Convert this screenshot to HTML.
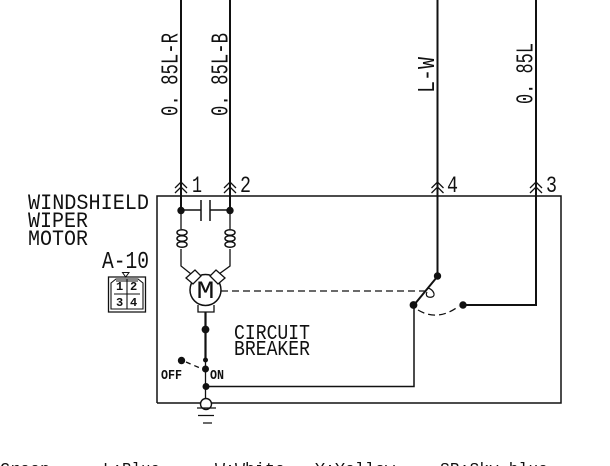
<!DOCTYPE html>
<html><head><meta charset="utf-8"><style>
html,body{margin:0;padding:0;background:#fff;width:610px;height:466px;overflow:hidden}
svg{display:block}
text{font-family:"Liberation Mono",monospace;fill:#111}
</style></head><body>
<svg width="610" height="466" viewBox="0 0 610 466" xmlns="http://www.w3.org/2000/svg">
<g fill="none" stroke="#111" stroke-width="1.6">
<!-- box -->
<path d="M157 403V196H561V403H157" stroke-width="1.5"/>
<!-- wires -->
<path d="M181 0V210M230 0V210M437.500 0V276M536 0V305H463" stroke-width="2"/>
<!-- arrowheads -->
<path d="M175 188l6-6 6 6M175 193l6-6 6 6M224 188l6-6 6 6M224 193l6-6 6 6M431.500 188l6-6 6 6M431.500 193l6-6 6 6M530 188l6-6 6 6M530 193l6-6 6 6" stroke-width="1.3"/>
<!-- capacitor -->
<path d="M181 210H201M210 210H230M201 200V221M210 200V221" stroke-width="1.5"/>
<!-- coils and leads -->
<path d="M181 210V229M181 249V266L191 274M230 210V229M230 249V266L219 274" stroke-width="1.3"/>
<g stroke-width="1.500">
<ellipse cx="182" cy="232.500" rx="5" ry="2.800"/><ellipse cx="182" cy="238.500" rx="5" ry="2.800"/><ellipse cx="182" cy="244.500" rx="5" ry="2.800"/>
<ellipse cx="230" cy="232.500" rx="5" ry="2.800"/><ellipse cx="230" cy="238.500" rx="5" ry="2.800"/><ellipse cx="230" cy="244.500" rx="5" ry="2.800"/>
</g>
<!-- motor -->
<circle cx="205.500" cy="290" r="15.500" stroke-width="1.5"/>
<path d="M186 278L195 270L201 276L193 284Z M225 278L216 270L210 276L218 284Z" stroke-width="1.3" fill="#fff"/>
<path d="M198 305V312H214V305" stroke-width="1.3"/>
<!-- vertical motor wire -->
<path d="M205.500 312V360" stroke-width="2.200"/>
<path d="M205.500 360V403" stroke-width="1.300"/>
<path d="M206 386.500H414V305" stroke-width="1.500"/>
<!-- off switch -->
<path d="M186 362L200 368" stroke-dasharray="5 4" stroke-width="1.300"/>
<!-- dashed -->
<path d="M221 291H425" stroke-dasharray="7 4" stroke-width="1.300"/>
<path d="M437 277L414 305" stroke-width="2"/>
<path d="M428 288C434 290 436 296 432 297C428 298 425 296 427 292" stroke-width="1.200"/>
<path d="M418 310Q438 322 459 306" stroke-dasharray="7 4" stroke-width="1.300"/>
<!-- ground -->
<circle cx="206" cy="404" r="5.500" fill="#fff" stroke-width="1.400"/>
<path d="M197 408H216M198 415.500H214M203 423H212" stroke-width="1.300"/>
<!-- connector -->
<path d="M108.500 277H145.500V312H108.500Z" stroke-width="1.300"/>
<path d="M111 283L116 279H138L143 283V309H111Z" stroke-width="1.100"/>
<path d="M127 279V309M114 294H140M116 281H138" stroke-width="1.100"/>
<path d="M122.500 272.500H129L125.700 277Z" stroke-width="1"/>
</g>
<g fill="#111">
<circle cx="181" cy="210.500" r="3.700"/><circle cx="230" cy="210.500" r="3.700"/>
<circle cx="437.500" cy="276" r="3.700"/><circle cx="413.500" cy="305" r="3.900"/><circle cx="463" cy="305" r="3.700"/>
<circle cx="205.500" cy="329.500" r="3.900"/><circle cx="205.500" cy="360" r="2.500"/><circle cx="205.500" cy="369" r="3.500"/><circle cx="206" cy="386.500" r="3.500"/><circle cx="181.500" cy="360.500" r="3.700"/>
</g>
<!-- M -->
<text x="196.500" y="298" font-size="25" textLength="18" lengthAdjust="spacingAndGlyphs">M</text>
<!-- labels -->
<text x="28" y="209" font-size="22" textLength="121" lengthAdjust="spacingAndGlyphs">WINDSHIELD</text>
<text x="28" y="227" font-size="22" textLength="60" lengthAdjust="spacingAndGlyphs">WIPER</text>
<text x="28" y="245" font-size="22" textLength="60" lengthAdjust="spacingAndGlyphs">MOTOR</text>
<text x="102" y="268" font-size="24" textLength="47" lengthAdjust="spacingAndGlyphs">A-10</text>
<text x="192" y="192" font-size="23" textLength="10" lengthAdjust="spacingAndGlyphs">1</text>
<text x="240" y="192" font-size="23" textLength="11" lengthAdjust="spacingAndGlyphs">2</text>
<text x="447" y="192" font-size="23" textLength="11" lengthAdjust="spacingAndGlyphs">4</text>
<text x="546" y="192" font-size="23" textLength="11" lengthAdjust="spacingAndGlyphs">3</text>
<g font-weight="bold" font-size="12">
<text x="116" y="290">1</text><text x="130" y="290">2</text>
<text x="116" y="306">3</text><text x="130" y="306">4</text>
</g>
<text x="234" y="339" font-size="21" textLength="76" lengthAdjust="spacingAndGlyphs">CIRCUIT</text>
<text x="234" y="355" font-size="21" textLength="76" lengthAdjust="spacingAndGlyphs">BREAKER</text>
<text x="161" y="379" font-size="14" font-weight="bold" textLength="21" lengthAdjust="spacingAndGlyphs">OFF</text>
<text x="210" y="379" font-size="14" font-weight="bold" textLength="14" lengthAdjust="spacingAndGlyphs">ON</text>
<text transform="translate(177.500 116) rotate(-90)" font-size="24" textLength="83" lengthAdjust="spacingAndGlyphs">0. 85L-R</text>
<text transform="translate(227.500 116) rotate(-90)" font-size="24" textLength="83" lengthAdjust="spacingAndGlyphs">0. 85L-B</text>
<text transform="translate(434 93) rotate(-90)" font-size="24" textLength="36" lengthAdjust="spacingAndGlyphs">L-W</text>
<text transform="translate(532.500 104) rotate(-90)" font-size="24" textLength="61" lengthAdjust="spacingAndGlyphs">0. 85L</text>
<!-- legend -->
<g font-size="17">
<text x="0" y="474" textLength="50" lengthAdjust="spacingAndGlyphs">Green</text>
<text x="103" y="474" textLength="57" lengthAdjust="spacingAndGlyphs">L:Blue</text>
<text x="215" y="474" textLength="70" lengthAdjust="spacingAndGlyphs">W:White</text>
<text x="315" y="474" textLength="80" lengthAdjust="spacingAndGlyphs">Y:Yellow</text>
<text x="440" y="474" textLength="108" lengthAdjust="spacingAndGlyphs">SB:Sky blue</text>
</g>
</svg>
</body></html>
